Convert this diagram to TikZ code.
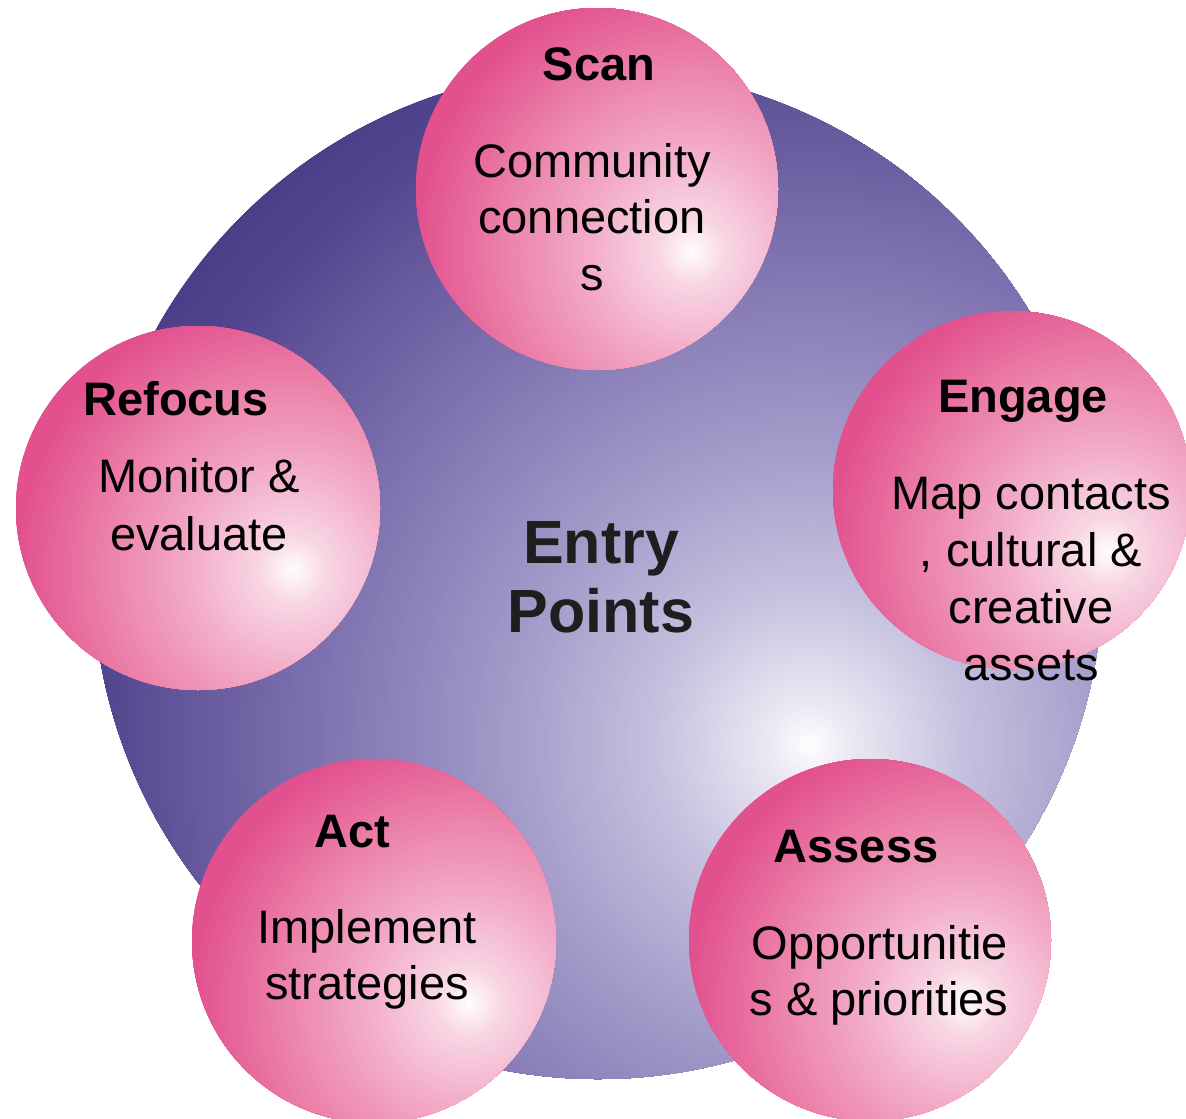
\documentclass[tikz,border=0pt]{standalone}
\usepackage{fontspec}
\setmainfont{Liberation Sans}
\definecolor{pinkA}{HTML}{F8D6E4}
\definecolor{pinkB}{HTML}{F2AAC7}
\definecolor{pinkC}{HTML}{EC86AC}
\definecolor{pinkD}{HTML}{E2508E}
\definecolor{puA}{HTML}{EEEAF4}
\definecolor{puB}{HTML}{C8C2E0}
\definecolor{puC}{HTML}{A49CCA}
\definecolor{puD}{HTML}{7C70AE}
\definecolor{puE}{HTML}{54468E}
\definecolor{puF}{HTML}{4A3C86}
\definecolor{entrytxt}{HTML}{1E1E1E}
\newcommand\pinkcol[1]{%
 \pgfmathsetmacro\gt{#1}%
 \ifdim\gt pt<0.12pt \pgfmathsetmacro\gp{100*\gt/0.12}\colorlet{cur}{pinkA!\gp!white}%
 \else\ifdim\gt pt<0.36pt \pgfmathsetmacro\gp{100*(\gt-0.12)/0.24}\colorlet{cur}{pinkB!\gp!pinkA}%
 \else\ifdim\gt pt<0.60pt \pgfmathsetmacro\gp{100*(\gt-0.36)/0.24}\colorlet{cur}{pinkC!\gp!pinkB}%
 \else\ifdim\gt pt<0.93pt \pgfmathsetmacro\gp{100*(\gt-0.60)/0.33}\colorlet{cur}{pinkD!\gp!pinkC}%
 \else \colorlet{cur}{pinkD}\fi\fi\fi\fi}
\newcommand\purplecol[1]{%
 \pgfmathsetmacro\gt{#1}%
 \ifdim\gt pt<0.05pt \pgfmathsetmacro\gp{100*\gt/0.05}\colorlet{cur}{puA!\gp!white}%
 \else\ifdim\gt pt<0.19pt \pgfmathsetmacro\gp{100*(\gt-0.05)/0.14}\colorlet{cur}{puB!\gp!puA}%
 \else\ifdim\gt pt<0.38pt \pgfmathsetmacro\gp{100*(\gt-0.19)/0.19}\colorlet{cur}{puC!\gp!puB}%
 \else\ifdim\gt pt<0.64pt \pgfmathsetmacro\gp{100*(\gt-0.38)/0.26}\colorlet{cur}{puD!\gp!puC}%
 \else\ifdim\gt pt<0.90pt \pgfmathsetmacro\gp{100*(\gt-0.64)/0.26}\colorlet{cur}{puE!\gp!puD}%
 \else \pgfmathsetmacro\gp{min(100,100*(\gt-0.90)/0.10)}\colorlet{cur}{puF!\gp!puE}\fi\fi\fi\fi\fi}
\tikzset{
  bubble/.style={circle, minimum size=#1, inner sep=0pt,
    path picture={
      \coordinate (hl) at ([shift={(95,62)}]path picture bounding box.center);
      \foreach \i in {0,...,79}{\pinkcol{1-\i/80}\pgfmathsetmacro\rr{300*(1-\i/80)}\fill[cur] (hl) circle (\rr pt);}
    }},
  bigdisc/.style={circle, minimum size=#1, inner sep=0pt,
    path picture={
      \coordinate (hlb) at ([shift={(212,171)}]path picture bounding box.center);
      \foreach \i in {0,...,129}{\purplecol{1-\i/130}\pgfmathsetmacro\rr{790*(1-\i/130)}\fill[cur] (hlb) circle (\rr pt);}
    }},
  ttl/.style={anchor=base, inner sep=0pt, font=\fontsize{47}{57}\selectfont\bfseries},
  bdy/.style={anchor=base, inner sep=0pt, font=\fontsize{47}{57}\selectfont},
  entry/.style={anchor=base, inner sep=0pt, text=entrytxt, font=\fontsize{61}{69}\selectfont\bfseries}
}
\begin{document}
\begin{tikzpicture}[x=1pt,y=-1pt]
\useasboundingbox (0,0) rectangle (1186,1119);
\clip (0,0) rectangle (1186,1119);
\node[bigdisc=1010pt] (big) at (598,574) {};
\node[bubble=362pt] (scan) at (597,189) {};
\node[bubble=358pt] (engage) at (1012,490) {};
\node[bubble=364pt] (refocus) at (198,508) {};
\node[bubble=364pt] (act) at (374,941) {};
\node[bubble=362pt] (assess) at (870,940) {};
% centre
\node[entry] (e1) at (601,563) {Entry};
\node[entry] (e2) at (601,632) {Points};
% Scan
\node[ttl] (scanT) at (599,80) {Scan};
\node[bdy] (scan1) at (592,177) {Community};
\node[bdy] (scan2) at (592,233) {connection};
\node[bdy] (scan3) at (592,290) {s};
% Engage
\node[ttl] (engT) at (1023,412) {Engage};
\node[bdy] (eng1) at (1031,509) {Map contacts};
\node[bdy] (eng2) at (1031,566) {, cultural \&};
\node[bdy] (eng3) at (1031,623) {creative};
\node[bdy] (eng4) at (1031,680) {assets};
% Refocus
\node[ttl] (refT) at (176,415) {Refocus};
\node[bdy] (ref1) at (199,492) {Monitor \&};
\node[bdy] (ref2) at (199,550) {evaluate};
% Act
\node[ttl] (actT) at (352,847) {Act};
\node[bdy] (act1) at (367,943) {Implement};
\node[bdy] (act2) at (367,999) {strategies};
% Assess
\node[ttl] (assT) at (856,862) {Assess};
\node[bdy] (ass1) at (880,959) {Opportunitie};
\node[bdy] (ass2) at (879,1015) {s \& priorities};
\end{tikzpicture}
\end{document}
